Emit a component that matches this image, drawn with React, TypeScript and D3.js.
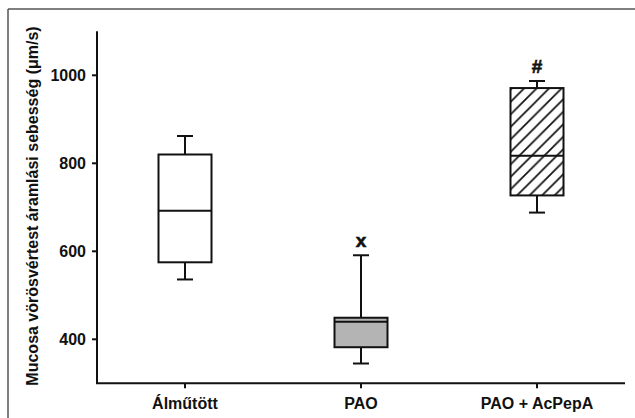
import React from "react";
import * as d3 from "d3";

const categories = ["Álműtött", "PAO", "PAO + AcPepA"];
const whiskerLow = [536, 345, 688];
const q1 = [575, 382, 727];
const medians = [692, 440, 817];
const q3 = [820, 449, 971];
const whiskerHigh = [862, 591, 987];
const markers = ["", "x", "#"];
const fills = ["#ffffff", "#b4b4b4", "url(#hatch)"];
const yTicks = [400, 600, 800, 1000];
const yLabel = "Mucosa vörösvértest áramlási sebesség (μm/s)";

const W = 635;
const H = 418;
const axisLeft = 97;
const axisRight = 625;
const axisBottom = 383.3;
const axisTop = 31.3;
const font = "'Liberation Sans', Arial, sans-serif";

export default function App() {
  const y = d3.scaleLinear().domain([300, 1100]).range([axisBottom, axisTop]);
  const x = d3.scaleBand().domain(categories).range([axisLeft, axisRight]);
  const boxW = 53;
  const capW = 16;
  return (
    <svg width={W} height={H} style={{ position: "absolute", left: 0, top: 0, background: "#fff" }}>
      <defs>
        <pattern id="hatch" patternUnits="userSpaceOnUse" width={12.5} height={12.5}>
          <rect width={12.5} height={12.5} fill="#fff" />
          <path d="M-3,3 L3,-3 M0,12.5 L12.5,0 M9.5,15.5 L15.5,9.5" stroke="#111" strokeWidth={1.7} />
        </pattern>
      </defs>
      {/* frame */}
      <line x1={8} y1={9} x2={W} y2={9} stroke="#555" strokeWidth={1.5} />
      <line x1={8} y1={9} x2={8} y2={H} stroke="#555" strokeWidth={1.5} />
      {/* axes */}
      <line x1={axisLeft} y1={axisTop} x2={axisLeft} y2={axisBottom} stroke="#111" strokeWidth={2} />
      <line x1={axisLeft - 1} y1={axisBottom} x2={axisRight} y2={axisBottom} stroke="#111" strokeWidth={2} />
      {yTicks.map((t) => (
        <g key={t}>
          <line x1={axisLeft - 5} x2={axisLeft} y1={y(t)} y2={y(t)} stroke="#111" strokeWidth={2} />
          <text x={86} y={y(t)} dy="0.36em" textAnchor="end" fontFamily={font} fontWeight="bold" fontSize={16} fill="#111">
            {t}
          </text>
        </g>
      ))}
      {categories.map((c) => {
        const cx = (x(c) as number) + x.bandwidth() / 2;
        return (
          <g key={c}>
            <line x1={cx} x2={cx} y1={axisBottom} y2={axisBottom + 5} stroke="#111" strokeWidth={2} />
            <text x={cx} y={409} textAnchor="middle" fontFamily={font} fontWeight="bold" fontSize={16} fill="#111">
              {c}
            </text>
          </g>
        );
      })}
      <text
        transform={`translate(38,206) rotate(-90)`}
        textAnchor="middle"
        fontFamily={font}
        fontWeight="bold"
        fontSize={16}
        fill="#111"
      >
        {yLabel}
      </text>
      {categories.map((c, i) => {
        const cx = (x(c) as number) + x.bandwidth() / 2;
        return (
          <g key={c + "box"} stroke="#111" strokeWidth={2}>
            <line x1={cx} x2={cx} y1={y(whiskerHigh[i])} y2={y(q3[i])} />
            <line x1={cx} x2={cx} y1={y(q1[i])} y2={y(whiskerLow[i])} />
            <line x1={cx - capW / 2} x2={cx + capW / 2} y1={y(whiskerHigh[i])} y2={y(whiskerHigh[i])} />
            <line x1={cx - capW / 2} x2={cx + capW / 2} y1={y(whiskerLow[i])} y2={y(whiskerLow[i])} />
            <rect x={cx - boxW / 2} y={y(q3[i])} width={boxW} height={y(q1[i]) - y(q3[i])} fill={fills[i]} />
            <line x1={cx - boxW / 2} x2={cx + boxW / 2} y1={y(medians[i])} y2={y(medians[i])} />
            {markers[i] && (
              <text
                x={cx}
                y={y(whiskerHigh[i]) - 8}
                textAnchor="middle"
                fontFamily={font}
                fontWeight="bold"
                fontSize={19}
                fill="#111"
                stroke="#111"
                strokeWidth={0.6}
              >
                {markers[i]}
              </text>
            )}
          </g>
        );
      })}
    </svg>
  );
}
